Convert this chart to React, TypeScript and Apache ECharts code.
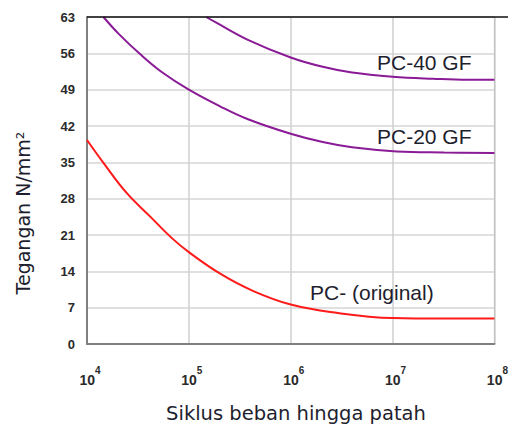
import React, { useEffect, useRef } from "react";
import * as echarts from "echarts";

// Cycles to failure (N) and stress (N/mm²)
const pc40Cycles = [1.48e5, 1.86e5, 3.8e5, 1e6, 2.06e6, 4.0e6, 1e7, 2.5e7, 5.5e7, 1e8];
const pc40Stress = [63, 61.9, 58.6, 55.2, 53.4, 52.3, 51.5, 51.1, 50.9, 50.9];

const pc20Cycles = [1.45e4, 2.06e4, 3.34e4, 5.41e4, 1e5, 2.02e5, 3.81e5, 1e6, 2.06e6, 4.0e6, 1.1e7, 3.2e7, 1e8];
const pc20Stress = [63, 59.7, 55.8, 52.4, 49.0, 45.8, 43.3, 40.5, 38.9, 37.9, 37.1, 36.9, 36.8];

const pcCycles = [1e4, 1.45e4, 2.45e4, 4.2e4, 6.9e4, 1e5, 2.05e5, 4.3e5, 1e6, 2.6e6, 1e7, 3.2e7, 1e8];
const pcStress = [39.3, 34.9, 29.1, 24.5, 20.3, 17.7, 13.5, 10.2, 7.6, 6.1, 5.0, 4.9, 4.9];

const yTicks = { min: 0, max: 63, interval: 7 };
const xRange = { min: 1e4, max: 1e8 };

const seriesNames = ["PC-40 GF", "PC-20 GF", "PC- (original)"];
const yTitle = "Tegangan N/mm²";
const xTitle = "Siklus beban hingga patah";

const zip = (xs: number[], ys: number[]) => xs.map((x, i) => [x, ys[i]]);

export default function App() {
  const ref = useRef<HTMLDivElement>(null);
  useEffect(() => {
    if (!ref.current) return;
    const chart = echarts.init(ref.current, undefined, { renderer: "svg" });
    const textColor = "#1e1e2e";
    const purple = "#8a1a96";
    const red = "#ff1a1a";
    const labelText = (text: string, x: number, y: number) => ({
      type: "text",
      x,
      y,
      z: 20,
      style: {
        text,
        fontFamily: "Liberation Sans",
        fontSize: 21,
        fill: textColor,
        align: "left",
        verticalAlign: "middle",
      },
    });
    const lineSeries = (name: string, xs: number[], ys: number[], color: string) => ({
      name,
      type: "line",
      smooth: 0.4,
      showSymbol: false,
      data: zip(xs, ys),
      lineStyle: { color, width: 2 },
      itemStyle: { color },
    });
    chart.setOption({
      animation: false,
      backgroundColor: "#fff",
      grid: {
        left: 87,
        right: 3,
        top: 17,
        bottom: 81,
        show: true,
        borderColor: "#9a9a9a",
        borderWidth: 1,
      },
      xAxis: {
        type: "log",
        logBase: 10,
        min: xRange.min,
        max: xRange.max,
        axisLine: { show: true, lineStyle: { color: "#808080", width: 2 } },
        axisTick: { show: false },
        splitLine: { show: true, lineStyle: { color: "#cfcfcf", width: 1.5 } },
        axisLabel: {
          margin: 21,
          formatter: (v: number) => `{p|}{b|10}{s|${Math.round(Math.log10(v))}}`,
          rich: {
            p: { width: 6, lineHeight: 22 },
            b: {
              fontFamily: "Liberation Sans",
              fontWeight: "bold",
              fontSize: 14,
              color: "#2a2a2a",
              lineHeight: 22,
              verticalAlign: "bottom",
            },
            s: {
              fontFamily: "Liberation Sans",
              fontWeight: "bold",
              fontSize: 10,
              color: "#2a2a2a",
              lineHeight: 22,
              verticalAlign: "top",
            },
          },
        },
      },
      yAxis: {
        type: "value",
        min: yTicks.min,
        max: yTicks.max,
        interval: yTicks.interval,
        axisLine: { show: true, lineStyle: { color: "#808080", width: 2 } },
        axisTick: { show: false },
        splitLine: { show: true, lineStyle: { color: "#d6d6d6", width: 1.5 } },
        axisLabel: {
          margin: 12,
          fontFamily: "Liberation Sans",
          fontWeight: "bold",
          fontSize: 13,
          color: "#2a2a2a",
        },
      },
      graphic: [
        {
          type: "line",
          shape: { x1: 87, y1: 17, x2: 508, y2: 17 },
          style: { stroke: "#111", lineWidth: 1.5 },
          z: 10,
        },
        {
          type: "text",
          x: 23,
          y: 213,
          rotation: Math.PI / 2,
          style: {
            text: yTitle,
            fontFamily: "DejaVu Sans",
            fontSize: 19,
            fill: textColor,
            align: "center",
            verticalAlign: "middle",
          },
        },
        {
          type: "text",
          x: 296,
          y: 413,
          style: {
            text: xTitle,
            fontFamily: "DejaVu Sans",
            fontSize: 19.5,
            fill: textColor,
            align: "center",
            verticalAlign: "middle",
          },
        },
        labelText(seriesNames[0], 377, 62),
        labelText(seriesNames[1], 377, 136),
        labelText(seriesNames[2], 310, 292),
      ],
      series: [
        lineSeries(seriesNames[0], pc40Cycles, pc40Stress, purple),
        lineSeries(seriesNames[1], pc20Cycles, pc20Stress, purple),
        lineSeries(seriesNames[2], pcCycles, pcStress, red),
      ],
    });
    return () => chart.dispose();
  }, []);
  return (
    <div
      ref={ref}
      style={{ position: "fixed", left: 0, top: 0, width: 511, height: 425 }}
    />
  );
}
